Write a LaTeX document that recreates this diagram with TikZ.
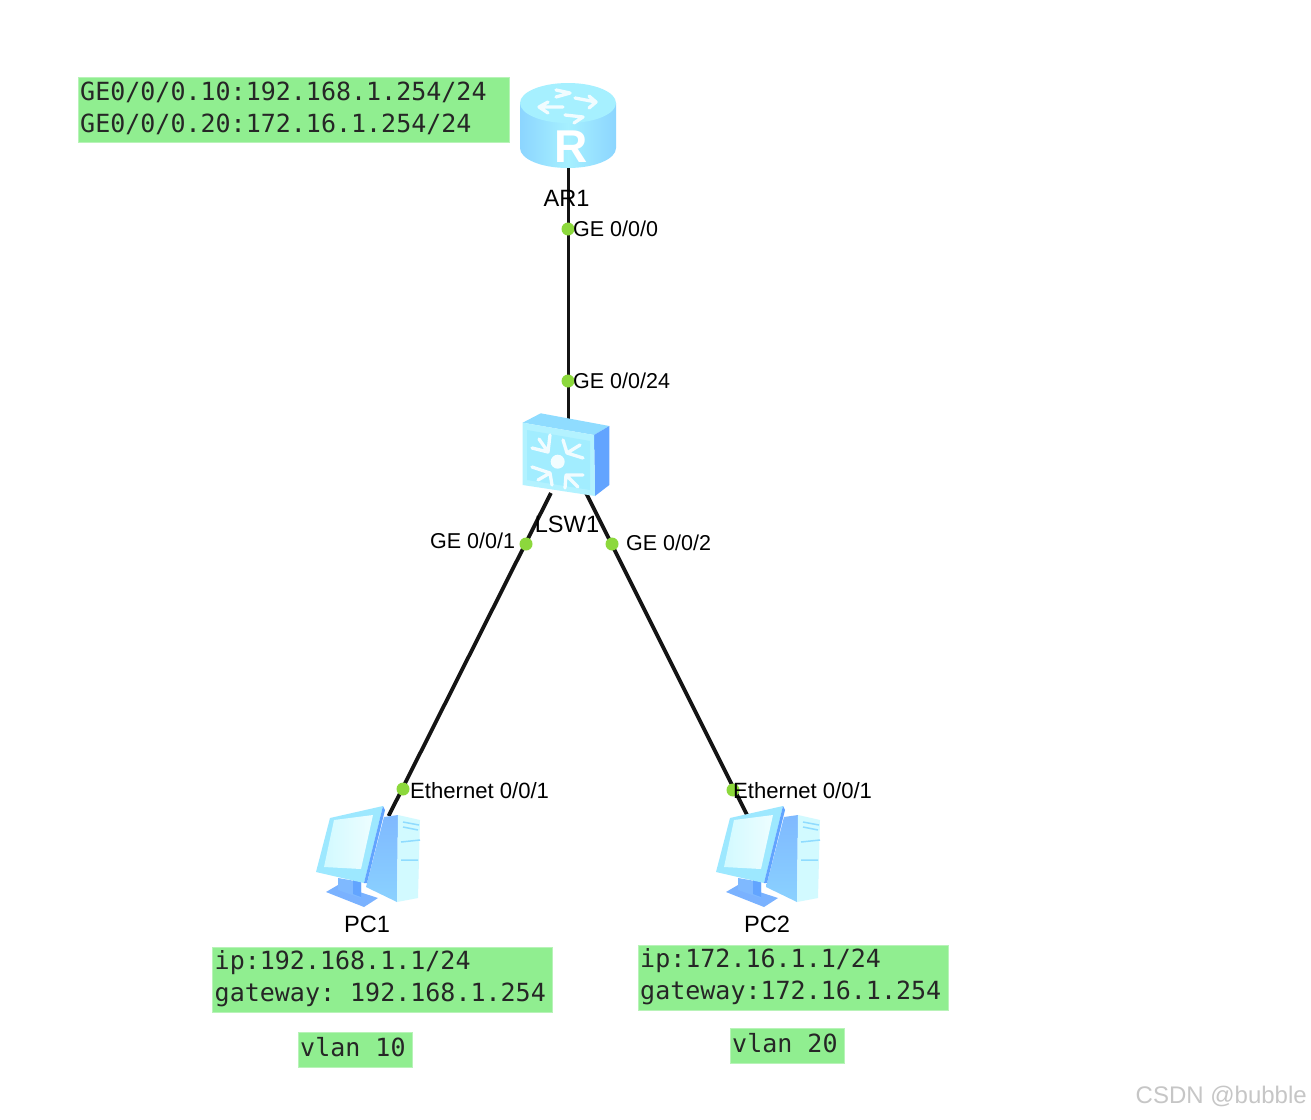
\documentclass[tikz,border=0pt]{standalone}
\usepackage{fontspec}
\setmainfont{Liberation Sans}
\newfontfamily\boxfont{DejaVu Sans Mono}
\newcommand{\monogap}{\hspace*{15.05pt}}
\definecolor{boxgreen}{HTML}{90EE90}
\definecolor{boxedge}{HTML}{B8F3B8}
\definecolor{dotgreen}{HTML}{8CD83C}
\definecolor{wire}{HTML}{141414}
\definecolor{iconlight}{HTML}{A6F0FF}
\definecolor{iconmid}{HTML}{8FDCFF}
\definecolor{iconblue}{HTML}{62A4FF}
\definecolor{icondeep}{HTML}{7FB9FF}
\definecolor{iconpale}{HTML}{D2FAFF}
\definecolor{markgray}{HTML}{C6C6C6}
\tikzset{
  x=1pt,y=-1pt,
  wirelink/.style={draw=wire,line width=3.8pt},
  devbox/.style={rectangle,inner sep=0pt,outer sep=0pt},
  portdot/.style={circle,fill=dotgreen,inner sep=0pt,minimum size=13pt},
  netlabel/.style={inner sep=0pt,font=\fontsize{21.5}{24}\selectfont,text=black},
  ethlabel/.style={netlabel,font=\fontsize{22.1}{24}\selectfont},
  devlabel/.style={netlabel,font=\fontsize{23.6}{26}\selectfont},
  notebox/.style={rectangle,fill=boxgreen,draw=boxedge,line width=1.5pt,inner sep=0pt,anchor=north west},
  notetext/.style={inner sep=0pt,anchor=west,align=left,font=\boxfont\fontsize{25}{32}\selectfont,text=black!85},
  glyphline/.style={draw=white,draw opacity=0.85,line width=3.3pt,line cap=round,line join=round},
  pcicon/.pic={
    \begin{scope}[shift={(-367,-857)}]
      \fill[iconblue!85] (325,892) -- (337,885) -- (377,898) -- (363,907) -- cycle;
      \fill[icondeep] (337,878) -- (360,882) -- (360,898) -- (337,890) -- cycle;
      \fill[iconblue] (352,880) -- (360,882) -- (360,897) -- (352,894) -- cycle;
      \shade[top color=icondeep,bottom color=iconmid!70!icondeep] (383,817) -- (397,815) -- (396,902) -- (365,887) -- cycle;
      \fill[iconpale] (397,815) -- (419,820) -- (417,898) -- (396,902) -- cycle;
      \draw[iconmid,line width=1.5pt] (402,822) -- (418,825) (402,827) -- (417,830) (400,842) -- (419,840) (400,860) -- (417,860);
      \fill[iconlight!60!iconmid] (315,872) -- (329,818) -- (382,806) -- (363,883) -- cycle;
      \fill[iconblue] (382,806) -- (384,810) -- (366,883) -- (363,883) -- cycle;
      \shade[left color=iconpale,right color=white!60!iconpale] (323,867) -- (333,820) -- (372,815) -- (360,869) -- cycle;
    \end{scope}
  }
}
\begin{document}
\begin{tikzpicture}
\useasboundingbox (0,0) rectangle (1311,1119);
\fill[white] (0,0) rectangle (1311,1119);

% device footprints
\node[devbox,minimum width=96pt,minimum height=86pt] (ar1) at (568.5,125) {};
\node[devbox,minimum width=88pt,minimum height=70pt] (lsw1) at (568.5,458) {};
\node[devbox,minimum width=60pt,minimum height=82pt] (pc1) at (368,857) {};
\node[devbox,minimum width=60pt,minimum height=82pt] (pc2) at (768,857) {};

% links
\draw[wirelink] (ar1) -- (lsw1);
\draw[wirelink] (lsw1) -- (pc1);
\draw[wirelink] (lsw1) -- (pc2);

% router icon
\shade[left color=iconmid!80!icondeep,right color=iconmid!80!icondeep,middle color=iconlight]
  (520,103) -- (520,148) .. controls (520,159) and (541,168) .. (568,168)
  .. controls (595,168) and (616,159) .. (616,148) -- (616,103) -- cycle;
\fill[iconlight] (568,103) ellipse [x radius=48pt,y radius=20pt];
\draw[glyphline] (575,98) -- (596,102) (589,96) -- (596,102) -- (589,108);
\draw[glyphline] (563,107) -- (539,107) (548,102) -- (539,107) -- (548,113);
\draw[glyphline] (570,93) -- (556,97) (556,90) -- (570,93);
\draw[glyphline] (565,115) -- (583,117) (574,123) -- (583,117);
\node[inner sep=0pt,text=white,font=\bfseries\fontsize{46}{48}\selectfont] (rmark) at (571,147) {R};

% switch icon
\fill[iconmid] (522.7,422.7) -- (540.7,413.3) -- (609.3,426) -- (594,435) -- cycle;
\fill[iconblue] (594,435) -- (609.3,426) -- (609.3,485) -- (595,496) -- cycle;
\fill[iconlight!85!white] (522.7,422.7) -- (594,435) -- (595,496) -- (522.7,485) -- cycle;
\fill[iconlight!85!iconmid] (527,430) -- (590,441) -- (590,490) -- (527,480) -- cycle;
\fill[white!85!iconlight] (557.7,461.7) circle [radius=7pt];
\draw[glyphline] (532,448) -- (548,452) -- (550,435) (539,439) -- (548,452);
\draw[glyphline] (563,440) -- (567,453) -- (583,458) (580,445) -- (567,453);
\draw[glyphline] (532,467) -- (550,473) -- (552,485) (538,480) -- (550,473);
\draw[glyphline] (565,488) -- (566,475) -- (583,475) (578,487) -- (566,475);

% PC icons
\pic at (pc1.center) {pcicon};
\pic at (pc2.center) {pcicon};

% device names
\node[devlabel] (ar1name) at (566.5,198) {AR1};
\node[devlabel] (lsw1name) at (567,524) {LSW1};
\node[devlabel] (pc1name) at (367,924) {PC1};
\node[devlabel] (pc2name) at (767,924) {PC2};

% port markers
\node[portdot] (p1) at (568,229) {};
\node[portdot] (p2) at (568,381) {};
\node[portdot] (p3) at (526,544) {};
\node[portdot] (p4) at (612,544) {};
\node[portdot] (p5) at (403,789) {};
\node[portdot] (p6) at (733,790) {};

% port labels
\node[netlabel,anchor=west] (l1) at (573,229) {GE 0/0/0};
\node[netlabel,anchor=west] (l2) at (573,381) {GE 0/0/24};
\node[netlabel,anchor=west] (l3) at (430,541) {GE 0/0/1};
\node[netlabel,anchor=west] (l4) at (626,543) {GE 0/0/2};
\node[ethlabel,anchor=west] (l5) at (410,791) {Ethernet 0/0/1};
\node[ethlabel,anchor=west] (l6) at (733,791) {Ethernet 0/0/1};

% notes
\node[notebox,minimum width=431pt,minimum height=65pt] (n1) at (77.5,76.5) {};
\node[notetext,xshift=2.5pt,yshift=1.5pt] (t1) at (n1.west) {GE0/0/0.10:192.168.1.254/24\\GE0/0/0.20:172.16.1.254/24};
\node[notebox,minimum width=340pt,minimum height=65pt] (n2) at (211.5,946.5) {};
\node[notetext,xshift=3pt,yshift=1.5pt] (t2) at (n2.west) {ip:192.168.1.1/24\\gateway:\monogap 192.168.1.254};
\node[notebox,minimum width=310pt,minimum height=65pt] (n3) at (637.5,944.5) {};
\node[notetext,xshift=2.5pt,yshift=1.5pt] (t3) at (n3.west) {ip:172.16.1.1/24\\gateway:172.16.1.254};
\node[notebox,minimum width=114pt,minimum height=35pt] (n4) at (297.5,1031.5) {};
\node[notetext,xshift=2.5pt,yshift=3pt] (t4) at (n4.west) {vlan\monogap 10};
\node[notebox,minimum width=114pt,minimum height=35pt] (n5) at (729.5,1027.5) {};
\node[notetext,xshift=2.5pt,yshift=3pt] (t5) at (n5.west) {vlan\monogap 20};

% watermark
\node[inner sep=0pt,anchor=east,text=markgray,font=\fontsize{24}{28}\selectfont] (mark) at (1307,1096) {CSDN @bubble};
\end{tikzpicture}
\end{document}
